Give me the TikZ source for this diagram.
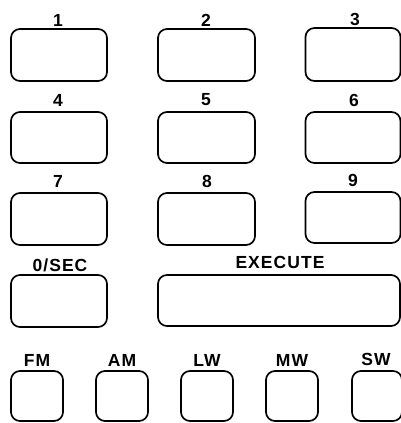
\documentclass[tikz,border=0pt]{standalone}
\usepackage{fontspec}
\setmainfont{Liberation Sans}[LetterSpace=6]
\begin{document}
\begin{tikzpicture}[x=1pt,y=-1pt,
  keybox/.style={draw=black,line width=1.7pt,rounded corners=9pt,inner sep=0pt},
  keylab/.style={font=\bfseries\fontsize{17.5}{18}\selectfont,inner sep=0pt,anchor=center}]
\useasboundingbox (0,0) rectangle (401,423);
\begin{scope}
\clip (0,0) rectangle (401,423);
% row 1
\node[keybox,minimum width=96pt,minimum height=52pt] (k1) at (59,55) {};
\node[keybox,minimum width=97pt,minimum height=52pt] (k2) at (206.5,55) {};
\node[keybox,minimum width=95pt,minimum height=53pt] (k3) at (353,54.5) {};
% row 2
\node[keybox,minimum width=96pt,minimum height=51pt] (k4) at (59,137.5) {};
\node[keybox,minimum width=97pt,minimum height=51pt] (k5) at (206.5,137.5) {};
\node[keybox,minimum width=95pt,minimum height=51pt] (k6) at (353,137.5) {};
% row 3
\node[keybox,minimum width=96pt,minimum height=52pt] (k7) at (59,219) {};
\node[keybox,minimum width=97pt,minimum height=52pt] (k8) at (206.5,219) {};
\node[keybox,minimum width=95pt,minimum height=51pt] (k9) at (353,217.5) {};
% row 4
\node[keybox,minimum width=96pt,minimum height=52pt] (k0) at (59,301) {};
\node[keybox,minimum width=242pt,minimum height=51pt] (kex) at (279,300.5) {};
% row 5
\node[keybox,minimum width=52pt,minimum height=50pt] (kfm) at (37,396) {};
\node[keybox,minimum width=52pt,minimum height=50pt] (kam) at (122,396) {};
\node[keybox,minimum width=52pt,minimum height=50pt] (klw) at (207,396) {};
\node[keybox,minimum width=52pt,minimum height=50pt] (kmw) at (292,396) {};
\node[keybox,minimum width=50pt,minimum height=50pt] (ksw) at (377,396) {};
\end{scope}
% labels
\node[keylab] (l1) at (58,20) {1};
\node[keylab] (l2) at (206,20) {2};
\node[keylab] (l3) at (355,19) {3};
\node[keylab] (l4) at (58,100) {4};
\node[keylab] (l5) at (206,100) {5};
\node[keylab] (l6) at (354,100) {6};
\node[keylab] (l7) at (58,181.5) {7};
\node[keylab] (l8) at (207,181.5) {8};
\node[keylab] (l9) at (353,180) {9};
\node[keylab] (l0) at (60,265) {0/SEC};
\node[keylab] (lex) at (280,262) {EXECUTE};
\node[keylab] (lfm) at (37,360) {FM};
\node[keylab] (lam) at (122,360) {AM};
\node[keylab] (llw) at (207,360) {LW};
\node[keylab] (lmw) at (292,360) {MW};
\node[keylab] (lsw) at (376,359) {SW};
\end{tikzpicture}
\end{document}
